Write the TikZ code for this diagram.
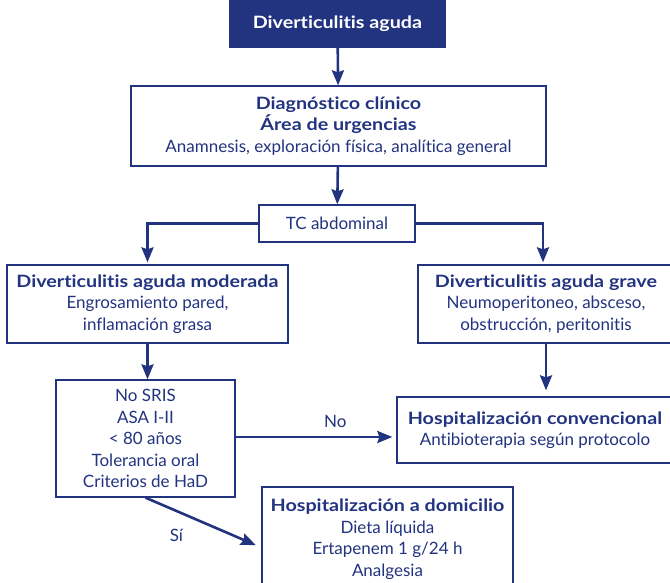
\documentclass[tikz,border=0pt]{standalone}
\usepackage{fontspec}
\setmainfont{Lato}[RawFeature=-liga,BoldFeatures={FakeStretch=1.16}]
\usetikzlibrary{arrows.meta,calc,positioning}
\definecolor{navy}{RGB}{34,51,128}
\begin{document}
\begin{tikzpicture}[x=1pt,y=-1pt,
  box/.style={draw=navy,line width=1.3pt,text=navy,align=center,inner sep=0pt,
    font=\fontsize{17}{21.5}\selectfont},
  flow/.style={draw=navy,line width=2.6pt,-{Stealth[length=15pt,width=12pt,inset=2pt]}},
  lbl/.style={text=navy,font=\fontsize{17}{18}\selectfont}]
\useasboundingbox (0,0) rectangle (670,583);
\clip (0,0) rectangle (670,583);
\node[box,fill=navy,text=white,minimum width=215pt,minimum height=48pt,font=\fontsize{17}{20}\bfseries]
  (start) at (337.5,23.5) {Diverticulitis aguda};
\node[box,minimum width=415pt,minimum height=80pt] (diag) at (338.5,126)
  {\textbf{Diagnóstico clínico}\\\textbf{Área de urgencias}\\Anamnesis, exploración física, analítica general};
\node[box,minimum width=156pt,minimum height=37pt] (tc) at (337,223.5) {TC abdominal};
\node[box,minimum width=281pt,minimum height=78pt] (mod) at (147.5,304)
  {\textbf{Diverticulitis aguda moderada}\\Engrosamiento pared,\\inflamación grasa};
\node[box,minimum width=256pt,minimum height=78pt] (grave) at (546,304)
  {\textbf{Diverticulitis aguda grave}\\Neumoperitoneo, absceso,\\obstrucción, peritonitis};
\node[box,minimum width=179pt,minimum height=117pt] (crit) at (145.5,438.5)
  {No SRIS\\ASA I-II\\< 80 años\\Tolerancia oral\\Criterios de HaD};
\node[box,minimum width=276pt,minimum height=66pt] (conv) at (535,430)
  {\textbf{Hospitalización convencional}\\Antibioterapia según protocolo};
\node[box,minimum width=251pt,minimum height=104pt] (dom) at (387.5,539)
  {\textbf{Hospitalización a domicilio}\\Dieta líquida\\Ertapenem 1 g/24 h\\Analgesia};
\draw[flow] (start) -- (diag);
\draw[flow] (diag) -- (tc);
\draw[flow,shorten >=2pt] (tc.west) -| (mod.north);
\draw[flow,shorten >=2pt] (tc.east) -| ([xshift=-3pt]grave.north);
\draw[flow] (mod) -- (crit.north -| mod.south);
\draw[flow,shorten >=6pt] (grave.south) -- (grave.south |- conv.north);
\draw[flow,shorten >=4pt] ([yshift=1.5pt]crit.east) -- node[lbl,pos=0.62,above=5pt]{No} ([yshift=1.5pt]crit.east -| conv.west);
\draw[flow,shorten >=6pt] (crit.south) -- node[lbl,pos=0.45,below left=4pt and 10pt]{Sí} ([yshift=-8.5pt]dom.west);
\end{tikzpicture}
\end{document}
